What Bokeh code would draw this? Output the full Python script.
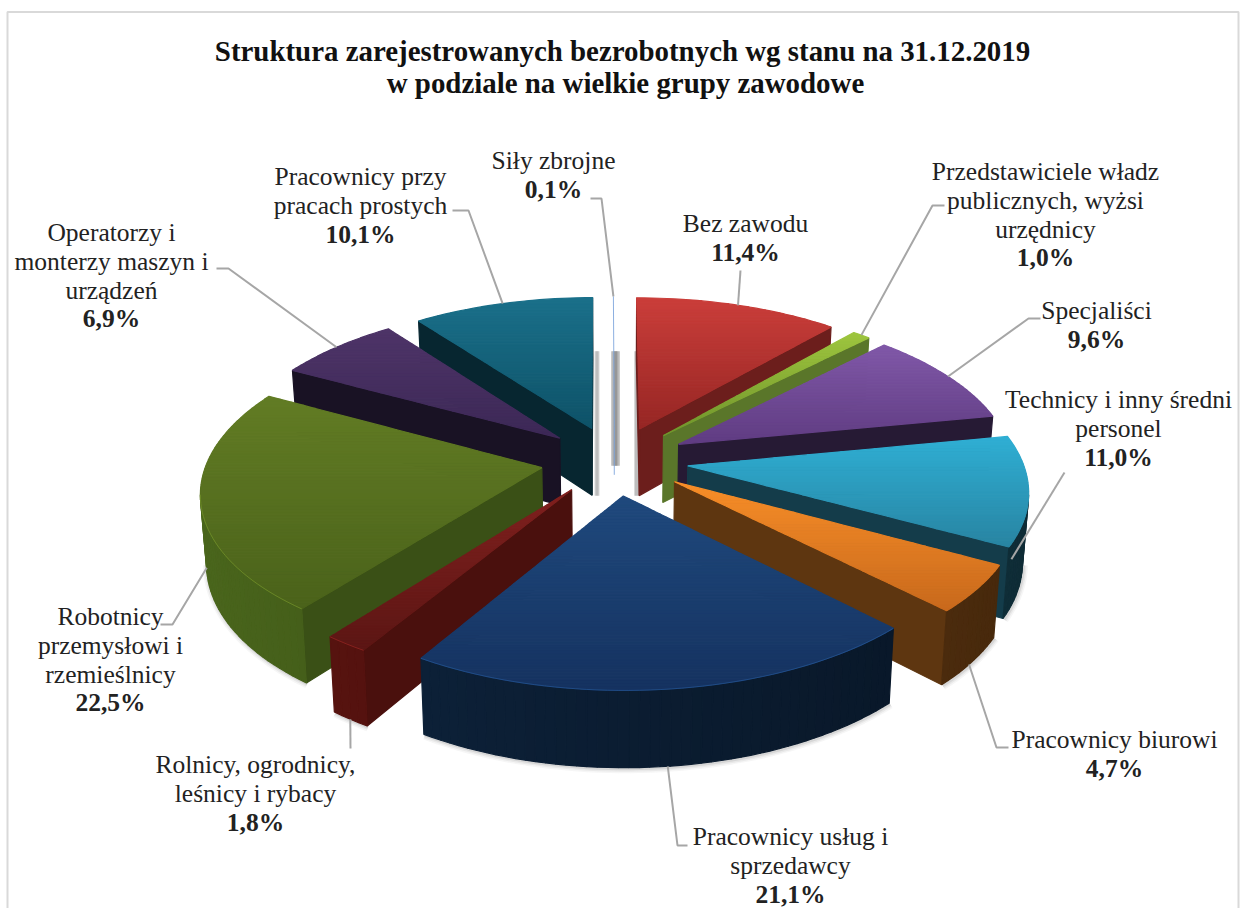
import math
from bokeh.plotting import figure
from bokeh.embed import file_html
from bokeh.resources import INLINE
from bokeh.core.properties import value
from bokeh.models import ColumnDataSource

# ---- data ----
categories = ["Bez zawodu", "Przedstawiciele władz publicznych, wyżsi urzędnicy", "Specjaliści",
              "Technicy i inny średni personel", "Pracownicy biurowi", "Pracownicy usług i sprzedawcy",
              "Rolnicy, ogrodnicy, leśnicy i rybacy", "Robotnicy przemysłowi i rzemieślnicy",
              "Operatorzy i monterzy maszyn i urządzeń", "Pracownicy przy pracach prostych", "Siły zbrojne"]
shares = [11.4, 1.0, 9.6, 11.0, 4.7, 21.1, 1.8, 22.5, 6.9, 10.1, 0.1]
share_labels = ["11,4%", "1,0%", "9,6%", "11,0%", "4,7%", "21,1%", "1,8%", "22,5%", "6,9%", "10,1%", "0,1%"]

title_lines = ["Struktura zarejestrowanych bezrobotnych wg stanu na 31.12.2019",
               "w podziale na wielkie grupy zawodowe"]

# ---- styles ----
top_hi = [(203, 62, 58), (158, 198, 62), (128, 88, 168), (47, 175, 212), (248, 142, 40), (31, 73, 125),
          (128, 32, 30), (98, 124, 36), (78, 52, 104), (26, 112, 138), (120, 160, 220)]
top_lo = [(150, 38, 36), (112, 148, 44), (96, 60, 130), (40, 132, 162), (200, 105, 28), (21, 50, 96),
          (92, 22, 20), (74, 98, 26), (60, 40, 86), (14, 82, 104), (120, 160, 220)]
side = [(108, 30, 28), (90, 118, 42), (38, 26, 52), (20, 60, 74), (94, 54, 16), (11, 29, 50),
        (74, 16, 13), (58, 80, 22), (25, 18, 36), (7, 38, 48), (120, 160, 220)]
FONT = "Liberation Serif"
LABEL_PX = "25.5px"
TITLE_PX = "28.9px"
TXT = "#222222"

# ---- projection of the exploded 3-D pie ----
CX, CY, R, E, D, T, H, XS = 614.0, 460.0, 340.0, 75.0, 2480.0, 0.462, 68.0, 0.984
TOTAL = sum(shares)


def proj(X, Y, z=0.0):
    s = D / (D - Y)
    return (CX + X * XS * s * (1 - 0.015 * z), CY + T * Y * s + z * H * s ** 0.7)


def clip(poly, ylim, keep_above):
    out = []
    n = len(poly)
    for i in range(n):
        a, b = poly[i], poly[(i + 1) % n]
        ina = a[1] <= ylim if keep_above else a[1] >= ylim
        inb = b[1] <= ylim if keep_above else b[1] >= ylim
        if ina:
            out.append(a)
        if ina != inb:
            t = (ylim - a[1]) / (b[1] - a[1])
            out.append((a[0] + t * (b[0] - a[0]), ylim))
    return out


def hexc(c, f=1.0):
    return "#%02x%02x%02x" % tuple(max(0, min(255, int(round(v * f)))) for v in c)


def mix(a, b, t):
    return tuple(a[i] + (b[i] - a[i]) * t for i in range(3))


slices = []
cum = 0.0
for i, v in enumerate(shares):
    a0 = 2 * math.pi * cum / TOTAL
    a1 = 2 * math.pi * (cum + v) / TOTAL
    cum += v
    mid = (a0 + a1) / 2
    ox, oy = E * math.sin(mid), -E * math.cos(mid)
    n = max(2, int(math.degrees(a1 - a0) / 1.5))
    angs = [a0 + (a1 - a0) * k / n for k in range(n + 1)]
    rim = [(ox + R * math.sin(t), oy - R * math.cos(t)) for t in angs]
    slices.append(dict(i=i, a0=a0, a1=a1, mid=mid, o=(ox, oy), angs=angs, rim=rim))


def rim_point(i, frac, z=0.0):
    s = slices[i]
    t = s["a0"] + (s["a1"] - s["a0"]) * frac
    return proj(s["o"][0] + R * math.sin(t), s["o"][1] - R * math.cos(t), z)


xs, ys, cols = [], [], []


def add(poly, col):
    xs.append([round(p[0], 2) for p in poly])
    ys.append([round(p[1], 2) for p in poly])
    cols.append(col)


shadow_lines = []
for s in sorted(slices, key=lambda q: -math.cos(q["mid"])):
    i = s["i"]
    if i == 10:      # the 0.1% slice is drawn below as a hairline
        continue
    ox, oy = s["o"]
    # radial faces, culled when they look away from the viewer
    for ang, sgn in ((s["a0"], -1), (s["a1"], 1)):
        nx, ny = sgn * math.cos(ang), sgn * math.sin(ang)
        if (-ox) * nx + (D - oy) * ny > 0:
            ex, ey = ox + R * math.sin(ang), oy - R * math.cos(ang)
            add([proj(ox, oy), proj(ex, ey), proj(ex, ey, 1), proj(ox, oy, 1)], hexc(side[i]))
    # outer rim
    rim = s["rim"]
    bottom = []
    for k in range(len(rim) - 1):
        t = (s["angs"][k] + s["angs"][k + 1]) / 2
        nx, ny = math.sin(t), -math.cos(t)
        X, Y = rim[k]
        if (-X) * nx + (D - Y) * ny > 0:
            f = 1 + 0.28 * (-(X - 0) / (R + E))
            add([proj(*rim[k]), proj(*rim[k + 1]), proj(*rim[k + 1], 1), proj(*rim[k], 1)], hexc(side[i], f))
            bottom.append(proj(*rim[k], 1))
            bottom.append(proj(*rim[k + 1], 1))
    if bottom:
        shadow_lines.append(bottom)
    # top face: a vertical colour ramp made of thin bands
    top = [proj(ox, oy)] + [proj(*p) for p in rim]
    ymin, ymax = min(p[1] for p in top), max(p[1] for p in top)
    nb = max(2, int((ymax - ymin) / 3))
    for b in range(nb):
        y0 = ymin + (ymax - ymin) * b / nb
        y1 = ymin + (ymax - ymin) * (b + 1) / nb
        band = clip(clip(top, y0, False), y1, True)
        if len(band) >= 3:
            add(band, hexc(mix(top_hi[i], top_lo[i], (b + .5) / nb)))

# ---- page ----
p = figure(width=1240, height=908, x_range=(0, 1240), y_range=(908, 0), output_backend="svg",
           toolbar_location=None, min_border=0, background_fill_color="white", border_fill_color="white",
           outline_line_color=None, tools="")
p.axis.visible = False
p.grid.visible = False

# frame of the chart area
p.line([7, 7, 1238, 1238], [908, 11.5, 11.5, 908], line_color="#d9d9d9", line_width=2)

# soft shadows
for b in shadow_lines:
    for w, al in ((9, .05), (6, .08), (3, .12)):
        p.line([q[0] + 1 for q in b], [q[1] + 1 for q in b], line_color="#555555", line_width=w, line_alpha=al)
seam_y0 = rim_point(10, .5, 0.9)[1]
for dx, y1, ws, al in ((1, proj(0, -70, 0.55)[1], (9, 6, 3), .38), (-17.5, proj(0, -70, 1)[1], (5, 3), .28),
                       (22, proj(0, -70, 1)[1], (5, 3), .28)):
    for w in ws:
        p.line([CX + dx, CX + dx], [seam_y0, y1], line_color="#777777", line_width=w, line_alpha=al)

p.patches("xs", "ys", source=ColumnDataSource(dict(xs=xs, ys=ys, c=cols)), fill_color="c", line_color="c", line_width=1.2)

# thin light edge along the front rims
for i in (5, 6, 7):
    rim_edge = [proj(*q) for q in slices[i]["rim"]]
    f_edge = [q for q in rim_edge if q[1] > CY + 30]
    p.line([q[0] for q in f_edge], [q[1] for q in f_edge], line_color=hexc(top_hi[i], 1.35), line_width=1, line_alpha=.5)

# the 0.1% slice is only a hairline
s = slices[10]
tip = proj(*s["o"])
tip_low = proj(*s["o"], 0.72)
out = rim_point(10, .5)
p.line([out[0], tip[0], tip_low[0]], [out[1], tip[1], tip_low[1]], line_color="#7fa6dc", line_width=0.9)

# leader lines: start on a slice, end beside its label
leader_from = [(0, .5, 0), (1, .5, 0), (2, .5, 0), (3, .95, .25), (4, .55, 1), (5, .505, 1), (6, .5, 1), (7, .47, .85),
               (8, .5, 0), (9, .5, 0), (10, .5, 0)]
leader_to = [[(740, 270)], [(932, 205), (944, 205)], [(1028, 318), (1040, 318)], [(1064, 472)],
             [(996, 747), (1008, 747)], [(677, 845), (687, 845)], [(350, 748)],
             [(172, 624), (160, 624)], [(228, 268), (216, 268)], [(468, 210), (452, 210)], [(601, 198), (590, 198)]]
for (i, f, z), rest in zip(leader_from, leader_to):
    a = rim_point(i, f, z)
    p.line([a[0]] + [q[0] for q in rest], [a[1]] + [q[1] for q in rest], line_color="#a6a6a6", line_width=2)

# labels
name_lines = [["Bez zawodu"], ["Przedstawiciele władz", "publicznych, wyżsi", "urzędnicy"], ["Specjaliści"],
              ["Technicy i inny średni", "personel"], ["Pracownicy biurowi"], ["Pracownicy usług i", "sprzedawcy"],
              ["Rolnicy, ogrodnicy,", "leśnicy i rybacy"], ["Robotnicy", "przemysłowi i", "rzemieślnicy"],
              ["Operatorzy i", "monterzy maszyn i", "urządzeń"], ["Pracownicy przy", "pracach prostych"], ["Siły zbrojne"]]
label_x = [745, 1045, 1096, 1118, 1114, 790, 255, 110, 111, 360, 553]
label_y = [223, 171, 310, 399, 739, 836, 764, 616, 232, 176, 160]
LINE = 28.8

tx, ty, tt, bx, by, bt = [], [], [], [], [], []
for names, pct, x, y in zip(name_lines, share_labels, label_x, label_y):
    for k, t in enumerate(names):
        tx.append(x); ty.append(y + k * LINE); tt.append(t)
    bx.append(x); by.append(y + len(names) * LINE); bt.append(pct)
p.text(tx, ty, text=tt, text_font=value(FONT), text_font_size=LABEL_PX, text_color=TXT,
       text_align="center", text_baseline="middle")
p.text(bx, by, text=bt, text_font=value(FONT), text_font_size=LABEL_PX, text_font_style="bold", text_color=TXT,
       text_align="center", text_baseline="middle")
p.text([622, 625], [50, 82], text=title_lines, text_font=value(FONT), text_font_size=TITLE_PX, text_font_style="bold",
       text_color="#111111", text_align="center", text_baseline="middle")

open("out.html", "w").write(file_html(p, INLINE))
